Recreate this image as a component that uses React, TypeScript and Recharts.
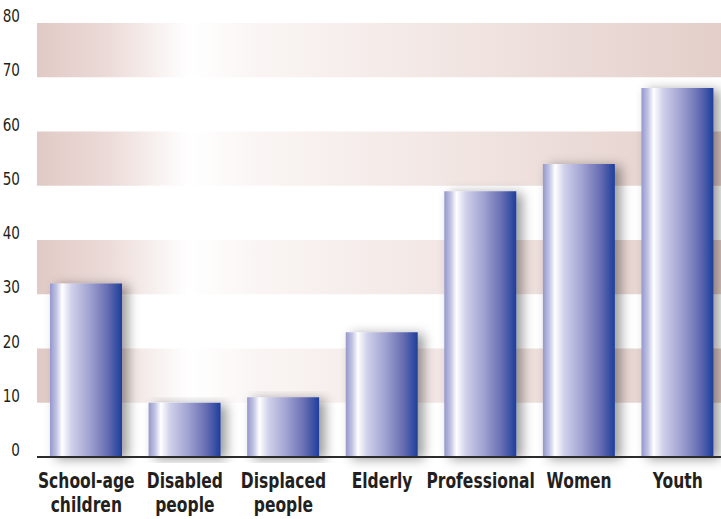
import { BarChart, Bar, XAxis, YAxis, ReferenceArea } from "recharts";

const categories = [
  "School-age children",
  "Disabled people",
  "Displaced people",
  "Elderly",
  "Professional",
  "Women",
  "Youth",
];
const values = [32, 10, 11, 23, 49, 54, 68];
const yTicks = [0, 10, 20, 30, 40, 50, 60, 70, 80];
const shadedBands = [
  [10, 20],
  [30, 40],
  [50, 60],
  [70, 80],
];

const data = categories.map((name, i) => ({ name, value: values[i] }));

const FONT = "'DejaVu Sans', sans-serif";

// condensed look: squeeze the glyphs horizontally
const CategoryTick = ({ x, y, payload }: any) => {
  const lines = String(payload.value).split(" ");
  return (
    <g transform={`translate(${x},${y}) scale(0.74,1)`}>
      <text
        x={0}
        y={0}
        textAnchor="middle"
        fill="#231f20"
        fontFamily={FONT}
        fontSize={21}
        fontWeight={700}
      >
        {lines.map((l, i) => (
          <tspan key={i} x={0} dy={i === 0 ? 23 : 24}>
            {l}
          </tspan>
        ))}
      </text>
    </g>
  );
};

const ValueTick = ({ x, y, payload }: any) => (
  <g transform={`translate(${x},${y}) scale(0.8,1)`}>
    <text
      x={0}
      y={-1}
      textAnchor="end"
      fill="#231f20"
      fontFamily={FONT}
      fontSize={17}
    >
      {payload.value}
    </text>
  </g>
);

const App = () => {
  return (
    <div
      style={{
        position: "fixed",
        left: 0,
        top: 0,
        width: 721,
        height: 519,
        overflow: "hidden",
        background: "#fff",
      }}
    >
      <BarChart
        width={727}
        height={519}
        data={data}
        margin={{ top: 23, right: 0, left: 0, bottom: 0 }}
        barCategoryGap={0}
      >
        <defs>
          <linearGradient id="bandFill" x1="0" y1="0" x2="1" y2="0">
            <stop offset="0" stopColor="#e1cac6" />
            <stop offset="0.1" stopColor="#ebdad7" />
            <stop offset="0.22" stopColor="#ffffff" />
            <stop offset="0.32" stopColor="#faf5f4" />
            <stop offset="0.65" stopColor="#f0e3e0" />
            <stop offset="1" stopColor="#e3cec9" />
          </linearGradient>
          <linearGradient id="barFill" x1="0" y1="0" x2="1" y2="0">
            <stop offset="0" stopColor="#9497cb" />
            <stop offset="0.09" stopColor="#c2c4e4" />
            <stop offset="0.17" stopColor="#ffffff" />
            <stop offset="0.3" stopColor="#cfd0ea" />
            <stop offset="0.55" stopColor="#a0a2d1" />
            <stop offset="0.8" stopColor="#666db2" />
            <stop offset="1" stopColor="#1d3e9b" />
          </linearGradient>
          <filter id="barShadow" x="-20%" y="-10%" width="160%" height="120%">
            <feDropShadow dx="6" dy="2" stdDeviation="6" floodColor="#000" floodOpacity="0.4" />
          </filter>
        </defs>
        {shadedBands.map(([lo, hi]) => (
          <ReferenceArea
            key={lo}
            y1={lo}
            y2={hi}
            fill="url(#bandFill)"
            fillOpacity={1}
            stroke="none"
            ifOverflow="visible"
          />
        ))}
        <YAxis
          domain={[0, 80]}
          ticks={yTicks}
          width={37}
          axisLine={false}
          tickLine={false}
          tickMargin={11}
          tick={<ValueTick />}
        />
        <XAxis
          dataKey="name"
          height={62}
          axisLine={{ stroke: "#2b2b2b", strokeWidth: 2 }}
          tickLine={false}
          interval={0}
          tick={<CategoryTick />}
        />
        <Bar
          dataKey="value"
          barSize={72}
          fill="url(#barFill)"
          filter="url(#barShadow)"
          isAnimationActive={false}
        />
      </BarChart>
    </div>
  );
};

export default App;
